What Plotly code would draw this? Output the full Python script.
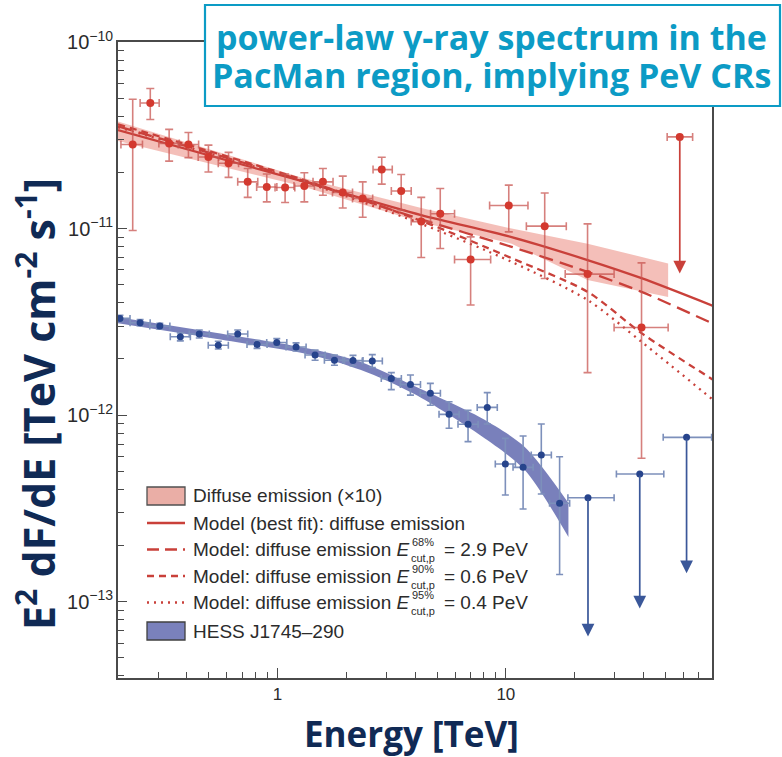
import numpy as np
import plotly.graph_objects as go

# ---------------- data ----------------
# Diffuse emission (x10): points E [TeV], E^2 dF/dE [TeV cm^-2 s^-1]
diff_E = [0.232, 0.277, 0.335, 0.407, 0.498, 0.610, 0.740, 0.897, 1.079, 1.31, 1.58,
          1.93, 2.36, 2.86, 3.48, 4.26, 5.16, 7.01, 10.3, 14.8, 22.8, 39.3]
diff_F = [2.82e-11, 4.71e-11, 2.86e-11, 2.82e-11, 2.42e-11, 2.24e-11, 1.78e-11, 1.67e-11,
          1.66e-11, 1.69e-11, 1.78e-11, 1.56e-11, 1.45e-11, 2.07e-11, 1.59e-11, 1.09e-11,
          1.20e-11, 6.83e-12, 1.33e-11, 1.03e-11, 5.70e-12, 2.95e-12]
diff_F_hi = [4.93e-11, 5.63e-11, 3.40e-11, 3.27e-11, 2.80e-11, 2.56e-11, 2.10e-11, 1.96e-11,
             1.96e-11, 1.99e-11, 2.10e-11, 1.91e-11, 1.78e-11, 2.41e-11, 1.95e-11, 1.47e-11,
             1.64e-11, 9.03e-12, 1.71e-11, 1.55e-11, 1.06e-11, 6.55e-12]
diff_F_lo = [9.77e-12, 3.84e-11, 2.30e-11, 2.40e-11, 2.01e-11, 1.88e-11, 1.47e-11, 1.39e-11,
             1.38e-11, 1.39e-11, 1.51e-11, 1.29e-11, 1.15e-11, 1.73e-11, 1.26e-11, 7.00e-12,
             7.82e-12, 3.89e-12, 9.60e-12, 5.40e-12, 1.69e-12, 5.87e-13]
diff_E_lo = [0.206, 0.250, 0.302, 0.367, 0.449, 0.550, 0.669, 0.810, 0.975, 1.18, 1.43,
             1.74, 2.13, 2.62, 3.15, 3.85, 4.68, 5.96, 8.49, 12.3, 18.2, 29.8]
diff_E_hi = [0.256, 0.303, 0.371, 0.451, 0.552, 0.675, 0.819, 0.993, 1.19, 1.45, 1.75,
             2.13, 2.61, 3.18, 3.85, 4.68, 5.96, 8.58, 12.5, 18.4, 29.8, 51.4]

# Diffuse emission upper limit
diff_ul_E = [57.8]
diff_ul_F = [3.1e-11]
diff_ul_tip = [5.75e-12]
diff_ul_E_lo = [50.9]
diff_ul_E_hi = [65.8]

# Diffuse emission (x10) confidence band
diff_band_E = [0.2, 1.27, 4.26, 10.6, 22.8, 51.4]
diff_band_hi = [3.75e-11, 1.88e-11, 1.29e-11, 1.0e-11, 8.3e-12, 6.5e-12]
diff_band_lo = [2.95e-11, 1.69e-11, 1.08e-11, 8.3e-12, 5.3e-12, 4.3e-12]

# Model curves
model_E = [0.2, 1.27, 4.26, 10.6, 22.8, 39.3, 81.3]
model_best = [3.37e-11, 1.80e-11, 1.18e-11, 9.0e-12, 6.78e-12, 5.42e-12, 3.84e-12]
model_68 = [3.53e-11, 1.82e-11, 1.12e-11, 7.98e-12, 5.86e-12, 4.58e-12, 3.08e-12]
model_90 = [3.62e-11, 1.84e-11, 1.10e-11, 6.94e-12, 4.58e-12, 2.75e-12, 1.54e-12]
model_95 = [3.49e-11, 1.80e-11, 1.06e-11, 6.63e-12, 4.14e-12, 2.47e-12, 1.20e-12]

# HESS J1745-290 points
hess_E = [0.204, 0.250, 0.305, 0.375, 0.454, 0.550, 0.669, 0.813, 0.992, 1.205, 1.46, 1.775,
          2.14, 2.60, 3.15, 3.82, 4.67, 5.64, 6.83, 8.29, 9.95, 11.9, 14.3, 17.2]
hess_F = [3.30e-12, 3.13e-12, 3.00e-12, 2.63e-12, 2.72e-12, 2.37e-12, 2.72e-12, 2.39e-12,
          2.45e-12, 2.32e-12, 2.10e-12, 1.97e-12, 1.96e-12, 1.95e-12, 1.57e-12, 1.46e-12,
          1.31e-12, 1.01e-12, 8.93e-13, 1.10e-12, 5.47e-13, 5.25e-13, 6.11e-13, 3.37e-13]
hess_F_hi = [3.43e-12, 3.25e-12, 3.11e-12, 2.76e-12, 2.86e-12, 2.49e-12, 2.86e-12, 2.51e-12,
             2.57e-12, 2.44e-12, 2.23e-12, 2.10e-12, 2.09e-12, 2.11e-12, 1.69e-12, 1.64e-12,
             1.48e-12, 1.18e-12, 1.06e-12, 1.32e-12, 7.51e-13, 7.73e-13, 8.96e-13, 5.98e-13]
hess_F_lo = [3.18e-12, 3.02e-12, 2.89e-12, 2.50e-12, 2.59e-12, 2.26e-12, 2.59e-12, 2.28e-12,
             2.33e-12, 2.21e-12, 1.97e-12, 1.85e-12, 1.84e-12, 1.80e-12, 1.37e-12, 1.28e-12,
             1.13e-12, 8.50e-13, 7.21e-13, 8.96e-13, 3.73e-13, 3.14e-13, 3.78e-13, 1.40e-13]
hess_bin_half_dex = 0.044

# HESS upper limits
hess_ul_E = [22.9, 38.6, 61.9]
hess_ul_F = [3.61e-13, 4.84e-13, 7.6e-13]
hess_ul_tip = [6.5e-14, 9.2e-14, 1.42e-13]
hess_ul_E_lo = [18.7, 30.5, 48.9]
hess_ul_E_hi = [29.8, 49.2, 79.7]

# HESS J1745-290 spectral band
hess_band_E = [0.2, 0.511, 1.40, 2.32, 3.97, 7.81, 12.1, 18.8]
hess_band_hi = [3.35e-12, 2.79e-12, 2.26e-12, 1.925e-12, 1.432e-12, 9.65e-13, 6.75e-13, 3.38e-13]
hess_band_lo = [3.11e-12, 2.59e-12, 2.10e-12, 1.743e-12, 1.297e-12, 7.73e-13, 5.08e-13, 2.22e-13]

legend_labels = [
    "Diffuse emission (\u00d710)",
    "Model (best fit): diffuse emission",
    ("Model: diffuse emission ", "68%", "= 2.9 PeV"),
    ("Model: diffuse emission ", "90%", "= 0.6 PeV"),
    ("Model: diffuse emission ", "95%", "= 0.4 PeV"),
    "HESS J1745\u2013290",
]
headline = ["power-law \u03b3-ray spectrum in the", "PacMan region, implying PeV CRs"]

# ---------------- styles ----------------
RED = "#c9403a"
RED_PT = "#d3392f"
RED_ERR = "rgba(200,85,82,0.75)"
RED_BAND = "rgba(234,128,116,0.5)"
BLUE_PT = "#27448c"
BLUE_ERR = "#7d90bb"
BLUE_BAND = "rgba(92,100,172,0.82)"
NAVY = "#102a55"
CYAN = "#0c9bc5"
AXIS = "#4a4a4a"
TXT = "#2b2b2b"

W, H = 782, 757
ML, MR, MT, MB = 118, 70, 42, 79
PW, PH = W - ML - MR, H - MT - MB


def px(xp):
    return (xp - ML) / PW


def py(yp):
    return 1 - (yp - MT) / PH


fig = go.Figure()

# diffuse band
fig.add_trace(go.Scatter(
    x=diff_band_E + diff_band_E[::-1], y=diff_band_hi + diff_band_lo[::-1],
    fill="toself", fillcolor=RED_BAND, line=dict(width=0), mode="lines",
    hoverinfo="skip", showlegend=False))

# HESS band: lower edge, then upper edge filled down to it
fig.add_trace(go.Scatter(
    x=hess_band_E, y=hess_band_lo, mode="lines",
    line=dict(width=0, shape="spline", smoothing=0.8, color=BLUE_BAND),
    hoverinfo="skip", showlegend=False))
fig.add_trace(go.Scatter(
    x=hess_band_E, y=hess_band_hi, mode="lines", fill="tonexty", fillcolor=BLUE_BAND,
    line=dict(width=0, shape="spline", smoothing=0.8, color=BLUE_BAND),
    hoverinfo="skip", showlegend=False))

# model curves
for vals, dash in [(model_best, "solid"), (model_68, "14px,7px"),
                   (model_90, "7px,5px"), (model_95, "2px,5px")]:
    fig.add_trace(go.Scatter(
        x=model_E, y=vals, mode="lines",
        line=dict(color=RED, width=2.3, dash=dash, shape="spline", smoothing=0.8),
        showlegend=False, hoverinfo="skip"))


def err_args(vals, hi, lo):
    return dict(array=[h - v for h, v in zip(hi, vals)],
                arrayminus=[v - l for v, l in zip(vals, lo)])


# diffuse points
fig.add_trace(go.Scatter(
    x=diff_E, y=diff_F, mode="markers",
    marker=dict(color=RED_PT, size=8),
    error_y=dict(type="data", symmetric=False, color=RED_ERR, thickness=1.6, width=4,
                 **err_args(diff_F, diff_F_hi, diff_F_lo)),
    error_x=dict(type="data", symmetric=False, color=RED_ERR, thickness=1.6, width=4,
                 **err_args(diff_E, diff_E_hi, diff_E_lo)),
    showlegend=False))

# diffuse upper limit
fig.add_trace(go.Scatter(
    x=diff_ul_E, y=diff_ul_F, mode="markers",
    marker=dict(color=RED_PT, size=8),
    error_x=dict(type="data", symmetric=False, color=RED_ERR, thickness=1.6, width=4,
                 **err_args(diff_ul_E, diff_ul_E_hi, diff_ul_E_lo)),
    showlegend=False))

# HESS points
hess_E_hi = [e * 10 ** hess_bin_half_dex for e in hess_E]
hess_E_lo = [e / 10 ** hess_bin_half_dex for e in hess_E]
fig.add_trace(go.Scatter(
    x=hess_E, y=hess_F, mode="markers",
    marker=dict(color=BLUE_PT, size=7),
    error_y=dict(type="data", symmetric=False, color=BLUE_ERR, thickness=1.6, width=3.5,
                 **err_args(hess_F, hess_F_hi, hess_F_lo)),
    error_x=dict(type="data", symmetric=False, color=BLUE_ERR, thickness=1.6, width=3.5,
                 **err_args(hess_E, hess_E_hi, hess_E_lo)),
    showlegend=False))

# HESS upper limits
fig.add_trace(go.Scatter(
    x=hess_ul_E, y=hess_ul_F, mode="markers",
    marker=dict(color=BLUE_PT, size=7),
    error_x=dict(type="data", symmetric=False, color=BLUE_ERR, thickness=1.6, width=3.5,
                 **err_args(hess_ul_E, hess_ul_E_hi, hess_ul_E_lo)),
    showlegend=False))

annotations = []
for E, F, tip, col in ([(e, f, t, RED) for e, f, t in zip(diff_ul_E, diff_ul_F, diff_ul_tip)] +
                       [(e, f, t, "#3a5799") for e, f, t in zip(hess_ul_E, hess_ul_F, hess_ul_tip)]):
    annotations.append(dict(
        x=np.log10(E), y=np.log10(tip), ax=np.log10(E), ay=np.log10(F),
        xref="x", yref="y", axref="x", ayref="y", text="", showarrow=True,
        arrowhead=2, arrowsize=1.5, arrowwidth=1.7, arrowcolor=col))

# ---------------- legend (drawn by hand) ----------------
shapes = []
LFONT = dict(family="Liberation Sans, Arial, sans-serif", size=19, color=TXT)
rows = [496, 523, 549.5, 576, 602.5, 631]
sw_x0, sw_x1, txt_x = 147, 185, 191

shapes.append(dict(type="rect", xref="paper", yref="paper",
                   x0=px(sw_x0), x1=px(sw_x1), y0=py(rows[0] + 9), y1=py(rows[0] - 9),
                   fillcolor="#eaaea6", line=dict(color="#505050", width=1.3)))
shapes.append(dict(type="rect", xref="paper", yref="paper",
                   x0=px(sw_x0), x1=px(sw_x1), y0=py(rows[5] + 9), y1=py(rows[5] - 9),
                   fillcolor="#7a81bc", line=dict(color="#404040", width=1.3)))
for r, dash in zip(rows[1:5], ["solid", "12px,6px", "7px,5px", "2px,5px"]):
    shapes.append(dict(type="line", xref="paper", yref="paper",
                       x0=px(sw_x0), x1=px(sw_x1), y0=py(r), y1=py(r),
                       line=dict(color=RED, width=2.3, dash=dash)))

for i, r in enumerate(rows):
    lab = legend_labels[i]
    if isinstance(lab, str):
        annotations.append(dict(x=px(txt_x), y=py(r), xref="paper", yref="paper",
                                xanchor="left", yanchor="middle", text=lab,
                                showarrow=False, font=LFONT))
    else:
        main, pct, rest = lab
        annotations.append(dict(x=px(txt_x), y=py(r), xref="paper", yref="paper",
                                xanchor="left", yanchor="middle",
                                text=main + "<i>E</i>", showarrow=False, font=LFONT))
        annotations.append(dict(x=px(410), y=py(r - 7.5), xref="paper", yref="paper",
                                xanchor="left", yanchor="middle", text=pct,
                                showarrow=False, font=dict(LFONT, size=11)))
        annotations.append(dict(x=px(409), y=py(r + 8.5), xref="paper", yref="paper",
                                xanchor="left", yanchor="middle", text="cut,p",
                                showarrow=False, font=dict(LFONT, size=11)))
        annotations.append(dict(x=px(442), y=py(r), xref="paper", yref="paper",
                                xanchor="left", yanchor="middle", text=rest,
                                showarrow=False, font=LFONT))

# ---------------- headline box ----------------
shapes.append(dict(type="rect", xref="paper", yref="paper",
                   x0=px(205), x1=px(780), y0=py(106), y1=py(5),
                   fillcolor="white", line=dict(color=CYAN, width=2.2), layer="above"))
for line_txt, yc in zip(headline, [37, 75]):
    annotations.append(dict(x=px(491), y=py(yc), xref="paper", yref="paper",
                            xanchor="center", yanchor="middle",
                            text="<b>" + line_txt + "</b>", showarrow=False,
                            font=dict(family="Open Sans, sans-serif", size=34, color=CYAN)))

# axis titles
annotations.append(dict(x=px(36), y=py(404), xref="paper", yref="paper",
                        xanchor="center", yanchor="middle", textangle=-90,
                        text="<b>E<sup>2</sup> dF/dE [TeV cm<sup>-2</sup> s<sup>-1</sup>]</b>",
                        showarrow=False,
                        font=dict(family="Open Sans, sans-serif", size=43, color=NAVY)))
annotations.append(dict(x=px(411), y=py(733), xref="paper", yref="paper",
                        xanchor="center", yanchor="middle",
                        text="<b>Energy [TeV]</b>", showarrow=False,
                        font=dict(family="Open Sans, sans-serif", size=35, color=NAVY)))

fig.update_layout(
    width=W, height=H, margin=dict(l=ML, r=MR, t=MT, b=MB),
    paper_bgcolor="white", plot_bgcolor="white",
    showlegend=False, shapes=shapes, annotations=annotations,
    font=dict(family="Liberation Sans, Arial, sans-serif", color=TXT),
)
fig.update_xaxes(
    type="log", range=[np.log10(0.2), np.log10(80)], dtick=1,
    showgrid=False, zeroline=False, showline=True, linecolor=AXIS, linewidth=1.5,
    mirror=True, ticks="inside", ticklen=10, tickwidth=1.3, tickcolor=AXIS,
    tickfont=dict(size=17, color=TXT),
    minor=dict(ticks="inside", ticklen=6, tickwidth=1.2, tickcolor=AXIS, showgrid=False),
)
fig.update_yaxes(
    type="log", range=[np.log10(3.9e-14), -10], dtick=1, exponentformat="power",
    showgrid=False, zeroline=False, showline=True, linecolor=AXIS, linewidth=1.5,
    mirror=True, ticks="inside", ticklen=9, tickwidth=1.3, tickcolor=AXIS,
    tickfont=dict(size=16, color=TXT),
    minor=dict(ticks="inside", ticklen=6, tickwidth=1.2, tickcolor=AXIS, showgrid=False),
)

fig.write_html("out.html")
